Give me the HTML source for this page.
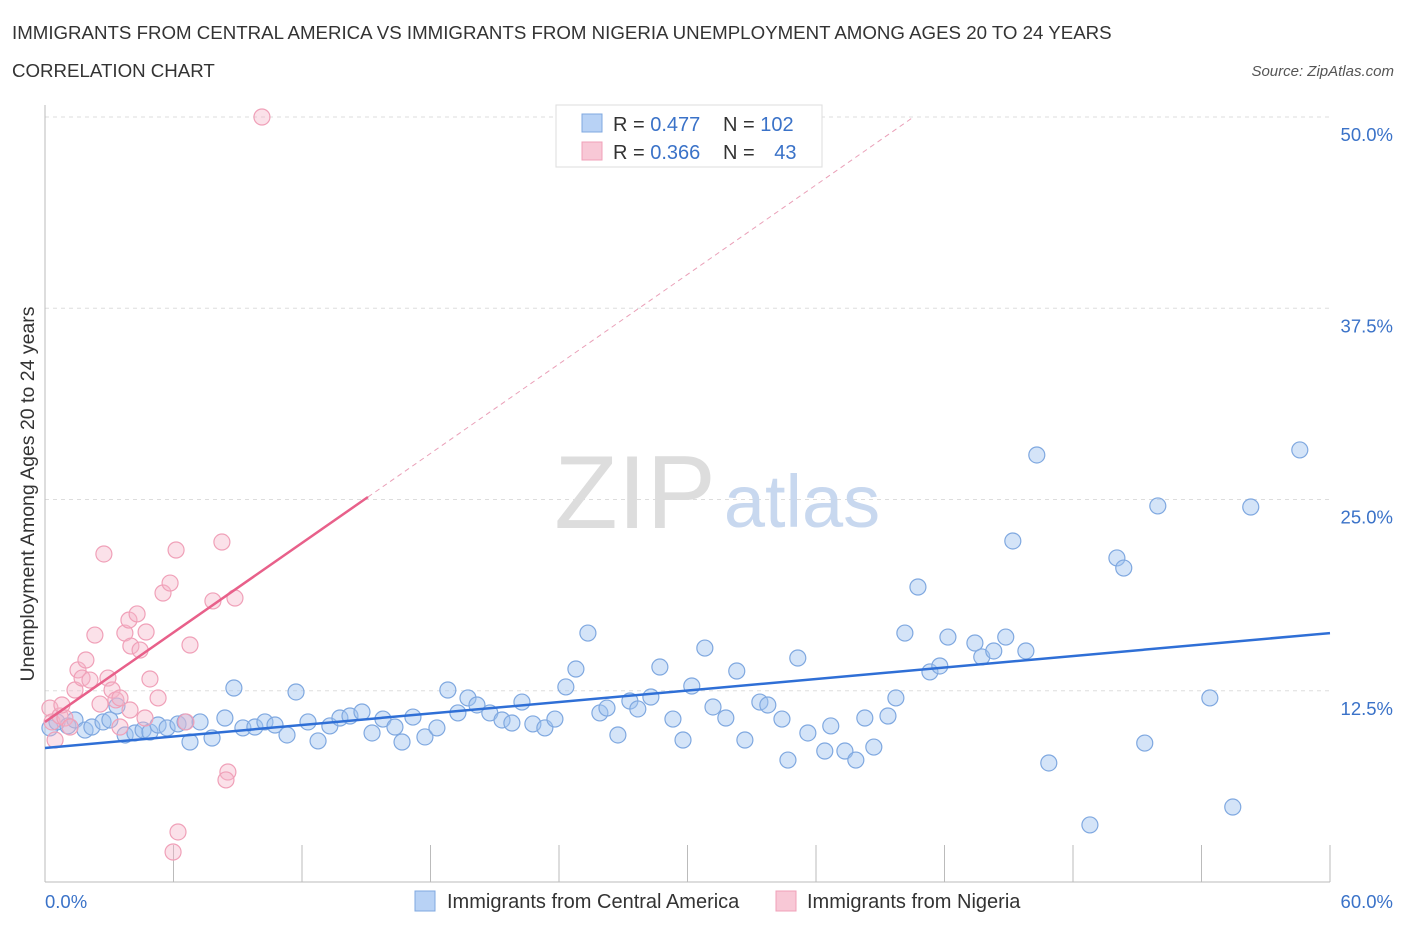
<!DOCTYPE html>
<html><head><meta charset="utf-8"><style>
body{margin:0;background:#fff;font-family:"Liberation Sans",sans-serif;}
svg text{font-family:"Liberation Sans",sans-serif;}
</style></head><body>
<svg width="1406" height="930" xmlns="http://www.w3.org/2000/svg">
<text x="12" y="39" font-size="18.7" fill="#333">IMMIGRANTS FROM CENTRAL AMERICA VS IMMIGRANTS FROM NIGERIA UNEMPLOYMENT AMONG AGES 20 TO 24 YEARS</text>
<text x="12" y="77" font-size="18.7" fill="#333">CORRELATION CHART</text>
<text x="1394" y="76" font-size="15" fill="#555" font-style="italic" text-anchor="end">Source: ZipAtlas.com</text>
<g id="grid"></g>
<g><text x="635" y="528" font-size="104" font-family="Liberation Serif" fill="#ddd" text-anchor="middle">ZIP</text><text x="802" y="527" font-size="74" fill="#c8d8ef" text-anchor="middle">atlas</text></g>
<line x1="45" y1="105" x2="45" y2="882" stroke="#bbb"/>
<line x1="45" y1="882" x2="1330" y2="882" stroke="#bbb"/>
<g id="xt"></g>
<g id="yl"></g>
<text x="45" y="908" font-size="18.5" fill="#3a72c8">0.0%</text>
<text x="1393" y="908" font-size="18.5" fill="#3a72c8" text-anchor="end">60.0%</text>
<text transform="translate(34,494) rotate(-90)" font-size="19.5" fill="#333" text-anchor="middle">Unemployment Among Ages 20 to 24 years</text>
<g id="pts"></g>
<g id="trend"></g>
<g>
<rect x="556" y="105" width="266" height="62" fill="#fff" stroke="#ddd"/>
<rect x="582" y="114" width="20" height="18" fill="#b8d2f5" stroke="#7fa8e0"/>
<rect x="582" y="142" width="20" height="18" fill="#f8c8d6" stroke="#f0a0b8"/>
<text x="613" y="131" font-size="20" fill="#333">R = <tspan fill="#3a72c8">0.477</tspan></text>
<text x="723" y="131" font-size="20" fill="#333">N = <tspan fill="#3a72c8">102</tspan></text>
<text x="613" y="159" font-size="20" fill="#333">R = <tspan fill="#3a72c8">0.366</tspan></text>
<text x="723" y="159" font-size="20" fill="#333">N = <tspan fill="#3a72c8" dx="14">43</tspan></text>
</g>
<g>
<rect x="415" y="891" width="20" height="20" fill="#b8d2f5" stroke="#7fa8e0"/>
<text x="447" y="908" font-size="20" fill="#333">Immigrants from Central America</text>
<rect x="776" y="891" width="20" height="20" fill="#f8c8d6" stroke="#f0a0b8"/>
<text x="807" y="908" font-size="20" fill="#333">Immigrants from Nigeria</text>
</g>
</svg>
<script>
const yTicks=[12.5,25,37.5,50];
const yTickLabels=["12.5%","25.0%","37.5%","50.0%"];
const xTicks=[0,6,12,18,24,30,36,42,48,54,60];
const blueX=[0.23,0.56,1.07,1.4,1.87,2.19,2.71,3.03,3.36,3.74,4.2,4.58,4.9,5.28,5.7,6.21,6.54,6.77,7.24,7.8,8.4,8.82,9.24,9.8,10.27,10.74,11.3,11.72,12.28,12.75,13.3,13.77,14.24,14.8,15.27,15.78,16.34,16.67,17.18,17.74,18.3,18.81,19.28,19.75,20.17,20.77,21.34,21.8,22.27,22.78,23.34,23.81,24.32,24.79,25.35,25.91,26.24,26.75,27.31,27.68,28.29,28.71,29.32,29.79,30.2,30.81,31.19,31.79,32.3,32.68,33.38,33.75,34.41,34.69,35.15,35.62,36.41,36.69,37.35,37.86,38.28,38.7,39.36,39.73,40.15,40.76,41.32,41.78,42.16,43.42,43.74,44.3,44.86,45.19,45.8,46.31,46.87,48.79,50.05,50.37,51.35,51.96,54.39,55.46,56.3,58.59];
const blueY=[10.07,10.46,10.2,10.59,9.93,10.13,10.46,10.59,11.5,9.61,9.74,9.93,9.8,10.26,10.07,10.33,10.46,9.15,10.46,9.41,10.72,12.68,10.07,10.13,10.46,10.26,9.61,12.42,10.46,9.22,10.2,10.72,10.85,11.11,9.74,10.65,10.13,9.15,10.78,9.48,10.07,12.55,11.05,12.03,11.57,11.05,10.59,10.39,11.76,10.33,10.07,10.65,12.75,13.92,16.27,11.05,11.37,9.61,11.83,11.31,12.09,14.05,10.65,9.28,12.81,15.29,11.44,10.72,13.79,9.28,11.76,11.57,10.65,7.97,14.64,9.74,8.56,10.2,8.56,7.97,10.72,8.82,10.85,12.03,16.27,19.28,13.73,14.12,16.01,15.62,14.71,15.1,16.01,22.29,15.1,27.91,7.78,3.73,21.18,20.52,9.08,24.58,12.03,4.9,24.51,28.24];
const pinkX=[10.13,0.23,0.33,0.47,0.7,0.93,1.17,1.4,1.54,1.73,1.91,2.1,2.33,2.57,2.75,2.94,3.13,3.31,3.5,3.73,3.92,4.01,4.3,4.44,4.72,4.9,5.28,4.67,5.51,5.84,6.12,6.21,5.98,6.58,6.77,7.84,8.26,8.54,8.45,8.87,3.5,3.97,0.79];
const pinkY=[50.0,11.37,10.46,9.28,10.85,10.72,10.13,12.55,13.86,13.33,14.51,13.2,16.14,11.63,21.44,13.33,12.55,11.9,10.13,16.27,17.12,15.42,17.52,15.16,16.34,13.27,12.03,10.72,18.89,19.54,21.7,3.27,1.96,10.46,15.49,18.37,22.22,7.19,6.67,18.56,12.03,11.24,11.57];
const blueTrend=[8.76,16.27];
const pinkTrend=[10.46,0.975];
const NS="http://www.w3.org/2000/svg";
const X=v=>45+v*(1285/60);
const Y=v=>882-v*(765/50);
function mk(t,a,p){const e=document.createElementNS(NS,t);for(const k in a)e.setAttribute(k,a[k]);document.getElementById(p).appendChild(e);return e;}
yTicks.forEach((v,i)=>{
 const l=mk('line',{x1:45,x2:1330,y1:Y(v),y2:Y(v),stroke:'#ddd','stroke-dasharray':'4,4'},'grid');
 
 
 const t=mk('text',{x:1393,y:Y(v)+24,'font-size':18.5,fill:'#3a72c8','text-anchor':'end'},'yl');
 t.textContent=yTickLabels[i];
 
 
});
xTicks.forEach(v=>{
 const l=mk('line',{x1:X(v),x2:X(v),y1:845,y2:882,stroke:'#bbb'},'xt');
 
 
});
blueX.forEach((x,i)=>{
 const c=mk('circle',{cx:X(x),cy:Y(blueY[i]),r:8,fill:'rgba(160,195,240,0.45)',stroke:'#7fa8e0','stroke-width':1.2},'pts');
 
 
});
pinkX.forEach((x,i)=>{
 const c=mk('circle',{cx:X(x),cy:Y(pinkY[i]),r:8,fill:'rgba(245,180,200,0.4)',stroke:'#f0a0b8','stroke-width':1.2},'pts');
 
 
});
const b=mk('line',{x1:X(0),y1:Y(blueTrend[0]),x2:X(60),y2:Y(blueTrend[1]),stroke:'#2f6fd6','stroke-width':2.5},'trend');


const pEnd=15.08, pDash=(50-pinkTrend[0])/pinkTrend[1];
const p=mk('line',{x1:X(0),y1:Y(pinkTrend[0]),x2:X(pEnd),y2:Y(pinkTrend[0]+pinkTrend[1]*pEnd),stroke:'#e8608a','stroke-width':2.5},'trend');


const pd=mk('line',{x1:X(pEnd),y1:Y(pinkTrend[0]+pinkTrend[1]*pEnd),x2:X(pDash),y2:Y(50),stroke:'#eaa0b8','stroke-width':1,'stroke-dasharray':'5,4'},'trend');


</script>
</body></html>
